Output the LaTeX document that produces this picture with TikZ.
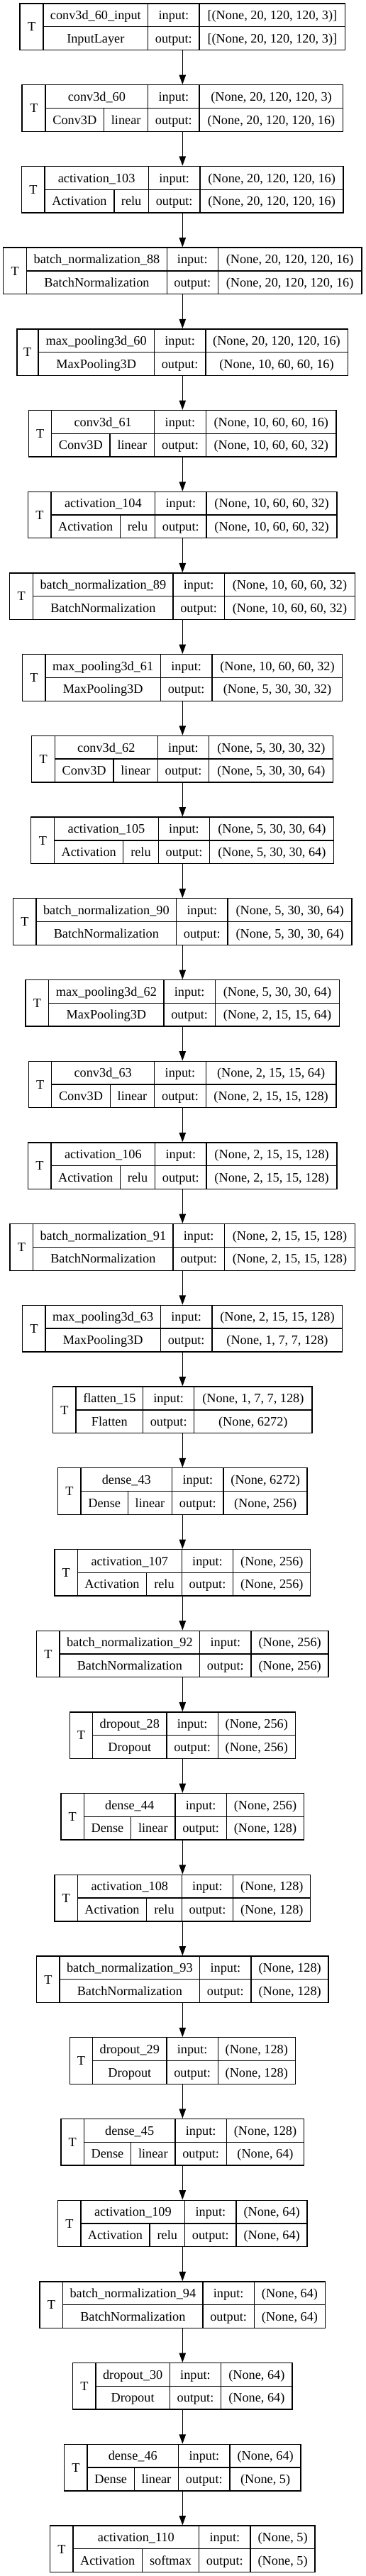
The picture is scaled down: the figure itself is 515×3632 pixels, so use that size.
\documentclass[tikz,border=0pt]{standalone}
\usepackage{fontspec}
\setmainfont{Liberation Serif}
\usetikzlibrary{arrows.meta}
\newcommand\kfont{\fontsize{13.7}{16}\selectfont}
\newcommand\kgeo[7]{\def\kI{#1}\def\kL{#2}\def\kT{#3}\def\kS{#4}\def\kA{#5}\def\kB{#6}\def\kR{#7}}
\newcommand\ktext[5]{%
  \pgfmathsetmacro\ktop{5+114.71*\kI}%
  \pgfmathsetmacro\kmid{\ktop+32.75}%
  \pgfmathsetmacro\kbot{\ktop+65.5}%
  \pgfmathsetmacro\kra{\ktop+16.4+6.2}%
  \pgfmathsetmacro\krb{\ktop+49.1+6.2}%
  \pgfmathsetmacro\kw{(\kR-\kL)*0.75}%
  \node[layerbox, minimum width=\kw pt] (b\kI) at (257.3,\kmid) {};
  \draw[cellline] (\kT,\ktop) -- (\kT,\kbot) (\kT,\kmid) -- (\kR,\kmid)
     (\kA,\ktop) -- (\kA,\kbot) (\kB,\ktop) -- (\kB,\kbot);
  \node[lbl] (t\kI) at ({(\kL+\kT)/2},{\kmid+6.2}) {T};
  \node[lbl] (n\kI) at ({(\kT+\kA)/2},\kra) {#1};
  \ifdim\kS pt=0pt
    \node[lbl] (c\kI) at ({(\kT+\kA)/2},\krb) {#2};
  \else
    \draw[cellline] (\kS,\kmid) -- (\kS,\kbot);
    \node[lbl] (c\kI) at ({(\kT+\kS)/2},\krb) {#2};
    \node[lbl] (a\kI) at ({(\kS+\kA)/2},\krb) {#3};
  \fi
  \node[lbl] (i\kI) at ({(\kA+\kB)/2},\kra) {input:};
  \node[lbl] (o\kI) at ({(\kA+\kB)/2},\krb) {output:};
  \node[lbl] (iv\kI) at ({(\kB+\kR)/2},\kra) {#4};
  \node[lbl] (ov\kI) at ({(\kB+\kR)/2},\krb) {#5};
}
\begin{document}
\begin{tikzpicture}[x=0.75pt,y=-0.75pt,
  layerbox/.style={draw=black, line width=1pt, rectangle, inner sep=0pt, minimum height=49.125pt},
  cellline/.style={draw=black, line width=1pt},
  lbl/.style={anchor=base, inner sep=0pt, font=\kfont, text=black},
  arr/.style={draw=black, line width=1pt, -{Triangle[length=10pt,width=7pt]}}]
\fill[white] (0,0) rectangle (515,3632);
\useasboundingbox (0,0) rectangle (515,3632);

\kgeo{0}{28.3}{61}{0}{208.7}{281}{486.7}\ktext{conv3d\_60\_input}{InputLayer}{}{[(None, 20, 120, 120, 3)]}{[(None, 20, 120, 120, 3)]}
\kgeo{1}{31.7}{64}{146.7}{208.7}{281}{484}\ktext{conv3d\_60}{Conv3D}{linear}{(None, 20, 120, 120, 3)}{(None, 20, 120, 120, 16)}
\kgeo{2}{30.7}{63}{161}{209.3}{282}{484.3}\ktext{activation\_103}{Activation}{relu}{(None, 20, 120, 120, 16)}{(None, 20, 120, 120, 16)}
\kgeo{3}{4.7}{37.7}{0}{235.3}{307.3}{510}\ktext{batch\_normalization\_88}{BatchNormalization}{}{(None, 20, 120, 120, 16)}{(None, 20, 120, 120, 16)}
\kgeo{4}{23.3}{54}{0}{217.3}{290}{490}\ktext{max\_pooling3d\_60}{MaxPooling3D}{}{(None, 20, 120, 120, 16)}{(None, 10, 60, 60, 16)}
\kgeo{5}{40.7}{72.7}{155}{217.7}{290.3}{474.3}\ktext{conv3d\_61}{Conv3D}{linear}{(None, 10, 60, 60, 16)}{(None, 10, 60, 60, 32)}
\kgeo{6}{39.7}{72}{169.3}{218.7}{291}{475.3}\ktext{activation\_104}{Activation}{relu}{(None, 10, 60, 60, 32)}{(None, 10, 60, 60, 32)}
\kgeo{7}{13.7}{46.7}{0}{244}{316.3}{500.7}\ktext{batch\_normalization\_89}{BatchNormalization}{}{(None, 10, 60, 60, 32)}{(None, 10, 60, 60, 32)}
\kgeo{8}{32}{64}{0}{226.3}{299}{483}\ktext{max\_pooling3d\_61}{MaxPooling3D}{}{(None, 10, 60, 60, 32)}{(None, 5, 30, 30, 32)}
\kgeo{9}{45}{77.3}{160}{222.3}{294.7}{470}\ktext{conv3d\_62}{Conv3D}{linear}{(None, 5, 30, 30, 32)}{(None, 5, 30, 30, 64)}
\kgeo{10}{44}{76.7}{173.7}{223.3}{295.7}{471}\ktext{activation\_105}{Activation}{relu}{(None, 5, 30, 30, 64)}{(None, 5, 30, 30, 64)}
\kgeo{11}{18.7}{51}{0}{248.7}{321}{496.3}\ktext{batch\_normalization\_90}{BatchNormalization}{}{(None, 5, 30, 30, 64)}{(None, 5, 30, 30, 64)}
\kgeo{12}{36.3}{68.7}{0}{231}{303.3}{478.7}\ktext{max\_pooling3d\_62}{MaxPooling3D}{}{(None, 5, 30, 30, 64)}{(None, 2, 15, 15, 64)}
\kgeo{13}{40.7}{72.7}{155.3}{217.7}{290.3}{474}\ktext{conv3d\_63}{Conv3D}{linear}{(None, 2, 15, 15, 64)}{(None, 2, 15, 15, 128)}
\kgeo{14}{39.7}{72}{169.3}{218.7}{291}{475.3}\ktext{activation\_106}{Activation}{relu}{(None, 2, 15, 15, 128)}{(None, 2, 15, 15, 128)}
\kgeo{15}{14}{46.7}{0}{244}{316.3}{500.7}\ktext{batch\_normalization\_91}{BatchNormalization}{}{(None, 2, 15, 15, 128)}{(None, 2, 15, 15, 128)}
\kgeo{16}{32}{64}{0}{226.3}{299}{483}\ktext{max\_pooling3d\_63}{MaxPooling3D}{}{(None, 2, 15, 15, 128)}{(None, 1, 7, 7, 128)}
\kgeo{17}{74.7}{107}{0}{201.7}{273.7}{440}\ktext{flatten\_15}{Flatten}{}{(None, 1, 7, 7, 128)}{(None, 6272)}
\kgeo{18}{81.7}{114}{180.3}{242.7}{315}{433.3}\ktext{dense\_43}{Dense}{linear}{(None, 6272)}{(None, 256)}
\kgeo{19}{77.3}{109.3}{206.7}{256.3}{328.7}{438}\ktext{activation\_107}{Activation}{relu}{(None, 256)}{(None, 256)}
\kgeo{20}{51.7}{84}{0}{281.7}{354}{463.3}\ktext{batch\_normalization\_92}{BatchNormalization}{}{(None, 256)}{(None, 256)}
\kgeo{21}{98.3}{130.7}{0}{235}{307.3}{416.3}\ktext{dropout\_28}{Dropout}{}{(None, 256)}{(None, 256)}
\kgeo{22}{86}{118.3}{184.7}{247}{319.3}{428.7}\ktext{dense\_44}{Dense}{linear}{(None, 256)}{(None, 128)}
\kgeo{23}{77.3}{109.3}{206.7}{256.3}{328.7}{438}\ktext{activation\_108}{Activation}{relu}{(None, 128)}{(None, 128)}
\kgeo{24}{51.7}{84}{0}{281.7}{354}{463.3}\ktext{batch\_normalization\_93}{BatchNormalization}{}{(None, 128)}{(None, 128)}
\kgeo{25}{98.3}{130.7}{0}{235}{307.3}{416.3}\ktext{dropout\_29}{Dropout}{}{(None, 128)}{(None, 128)}
\kgeo{26}{86}{118.3}{184.7}{247}{319.3}{428.7}\ktext{dense\_45}{Dense}{linear}{(None, 128)}{(None, 64)}
\kgeo{27}{82}{114}{211}{260.7}{333}{433.3}\ktext{activation\_109}{Activation}{relu}{(None, 64)}{(None, 64)}
\kgeo{28}{56.3}{88.7}{0}{286}{358.3}{458.7}\ktext{batch\_normalization\_94}{BatchNormalization}{}{(None, 64)}{(None, 64)}
\kgeo{29}{102.7}{135}{0}{239.3}{311.7}{412}\ktext{dropout\_30}{Dropout}{}{(None, 64)}{(None, 64)}
\kgeo{30}{91}{123}{189.3}{251.7}{324}{424.3}\ktext{dense\_46}{Dense}{linear}{(None, 64)}{(None, 5)}
\kgeo{31}{71}{103}{200.3}{280.7}{353}{444.3}\ktext{activation\_110}{Activation}{softmax}{(None, 5)}{(None, 5)}

\foreach \i in {0,...,30}{
  \pgfmathtruncatemacro\j{\i+1}
  \draw[arr] (b\i.south) -- (b\j.north);
}
\end{tikzpicture}
\end{document}
